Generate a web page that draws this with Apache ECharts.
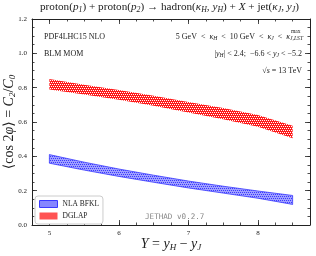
<!DOCTYPE html>
<html><head><meta charset="utf-8">
<script src="https://cdn.jsdelivr.net/npm/echarts@6/dist/echarts.min.js"></script>
<style>html,body{margin:0;padding:0;background:#fff}#c{width:316px;height:256px}</style>
</head><body><div id="c"></div>
<script>
// ---- data ----
const rapidity   = [5, 5.5, 6, 6.5, 7, 7.5, 8, 8.5];
const bfklUpper  = [0.410, 0.366, 0.326, 0.290, 0.256, 0.226, 0.198, 0.172];
const bfklLower  = [0.360, 0.320, 0.283, 0.249, 0.216, 0.186, 0.156, 0.120];
const dglapUpper = [0.850, 0.817, 0.786, 0.753, 0.717, 0.681, 0.641, 0.578];
const dglapLower = [0.790, 0.760, 0.730, 0.695, 0.656, 0.616, 0.572, 0.505];
const xMajorTicks = [5, 6, 7, 8];
const yMajorTicks = [0, 0.2, 0.4, 0.6, 0.8, 1.0, 1.2];
const seriesNames = ['NLA BFKL', 'DGLAP'];

const SERIF = '"Liberation Serif", "DejaVu Serif", serif';

function makePattern(bg, dot, pts) {
  const c = document.createElement('canvas'); c.width = 4; c.height = 4;
  const ctx = c.getContext('2d');
  ctx.fillStyle = bg; ctx.fillRect(0, 0, 4, 4);
  ctx.fillStyle = dot; pts.forEach(p => ctx.fillRect(p[0], p[1], 1, 1));
  return { image: c, repeat: 'repeat' };
}
const bluePat = makePattern('#a0a0ff', '#3a3aff', [[0,0],[2,0],[1,2],[3,2]]);
const redPat  = makePattern('#ff1a1a', '#ffffff', [[0,0],[2,0],[1,2],[3,2]]);

function band(name, upper, lower, fill, edge) {
  return {
    type: 'custom', name, coordinateSystem: 'cartesian2d', xAxisIndex: 0, yAxisIndex: 0,
    data: [[rapidity[0], upper[0]]],
    itemStyle: { color: edge || '#ff1a1a' },
    renderItem(params, api) {
      const up = rapidity.map((x, i) => api.coord([x, upper[i]]));
      const lo = rapidity.map((x, i) => api.coord([x, lower[i]]));
      const children = [{ type: 'polygon', shape: { points: up.concat(lo.slice().reverse()) },
        style: { fill: fill, stroke: edge || null, lineWidth: edge ? 0.8 : 0 } }];
      return { type: 'group', children };
    }
  };
}

const tickStyle = { color: '#222', width: 0.8 };
const lineStyle = { color: '#222', width: 1 };
function xAxisDef(pos, major, labels) {
  return {
    type: 'value', position: pos, min: 4.75, max: 8.75, interval: 0.25,
    axisLine: { show: !major, onZero: false, lineStyle },
    axisTick: major ? { inside: true, length: 5, lineStyle: tickStyle, customValues: xMajorTicks }
                    : { inside: true, length: 2.5, lineStyle: tickStyle },
    axisLabel: labels ? { show: true, customValues: xMajorTicks, formatter: v => String(Math.round(v)),
                          fontSize: 7, fontFamily: SERIF, color: '#222', margin: 5 } : { show: false },
    splitLine: { show: false },
    name: labels ? '{i|Y} = {i|y}{s|H} − {i|y}{s|J}' : '',
    nameLocation: 'middle', nameGap: 11, nameMoveOverlap: false,
    nameTextStyle: { fontSize: 14, fontFamily: SERIF, color: '#222', lineHeight: 16,
      rich: { i: { fontStyle: 'italic', fontSize: 14, fontFamily: SERIF, color: '#222' },
              s: { fontStyle: 'italic', fontSize: 9, fontFamily: SERIF, color: '#222', verticalAlign: 'bottom', lineHeight: 9 } } }
  };
}
function yAxisDef(pos, major, labels) {
  return {
    type: 'value', position: pos, min: 0, max: 1.2, interval: 0.05,
    axisLine: { show: !major, onZero: false, lineStyle },
    axisTick: major ? { inside: true, length: 5, lineStyle: tickStyle, customValues: yMajorTicks }
                    : { inside: true, length: 2.5, lineStyle: tickStyle },
    axisLabel: labels ? { show: true, customValues: yMajorTicks, formatter: v => v.toFixed(1),
                          fontSize: 7, fontFamily: SERIF, color: '#222', margin: 5 } : { show: false },
    splitLine: { show: false },
    name: labels ? '⟨cos 2{i|φ}⟩ = {i|C}{s|2}/{i|C}{s|0}' : '',
    nameLocation: 'middle', nameGap: 15, nameRotate: 90, nameMoveOverlap: false,
    nameTextStyle: { fontSize: 14, fontFamily: SERIF, color: '#222', lineHeight: 15,
      rich: { i: { fontStyle: 'italic', fontSize: 14, fontFamily: SERIF, color: '#222' },
              s: { fontStyle: 'italic', fontSize: 9, fontFamily: SERIF, color: '#222', verticalAlign: 'bottom', lineHeight: 8 } } }
  };
}

const richSmall = (fs) => ({
  i: { fontStyle: 'italic', fontSize: fs, fontFamily: SERIF, color: '#222' },
  s: { fontStyle: 'italic', fontSize: fs * 0.7, fontFamily: SERIF, color: '#222', verticalAlign: 'bottom', lineHeight: fs * 0.7 }
});
function txt(text, pos, fs, extra) {
  return Object.assign({ text, textStyle: Object.assign({ fontSize: fs, fontFamily: SERIF, color: '#222', fontWeight: 'normal',
    lineHeight: fs + 3, rich: richSmall(fs) }, extra || {}), padding: 0 }, pos);
}

const chart = echarts.init(document.getElementById('c'), null, { renderer: 'canvas' });
chart.setOption({
  animation: false,
  backgroundColor: '#fff',
  grid: { left: 32, right: 6, top: 19, bottom: 31, containLabel: false, outerBoundsMode: 'none' },
  xAxis: [xAxisDef('bottom', false, true), xAxisDef('bottom', true, false), xAxisDef('top', false, false), xAxisDef('top', true, false)],
  yAxis: [yAxisDef('left', false, true), yAxisDef('left', true, false), yAxisDef('right', false, false), yAxisDef('right', true, false)],
  title: [
    txt('proton({i|p}{s|1}) + proton({i|p}{s|2}) → hadron({i|κ}{s|H}, {i|y}{s|H}) + {i|X} + jet({i|κ}{s|J}, {i|y}{s|J})', { left: 40, top: 0 }, 11.2),
    txt('PDF4LHC15 NLO', { left: 44, top: 31 }, 8),
    txt('BLM MOM', { left: 44, top: 48 }, 8),
    txt('5 GeV  <  {i|κ}{s|H}  <  10 GeV  <  {i|κ}{s|J}  <  {i|κ}{s|J,LST}', { right: 13, top: 31 }, 8),
    txt('max', { left: 291, top: 27 }, 5.5, { fontStyle: 'normal' }),
    txt('|{i|y}{s|H}| < 2.4;  −6.6 < {i|y}{s|J} < −5.2', { right: 14, top: 48 }, 8),
    txt('√{i|s} = 13 TeV', { right: 14, top: 65 }, 8),
    txt('JETHAD v0.2.7', { left: 145, top: 212 }, 7.6, { fontFamily: '"DejaVu Sans Mono", monospace', color: '#888' })
  ],
  legend: {
    orient: 'vertical', left: 35, top: 196, padding: [4, 4, 4, 4],
    itemWidth: 18, itemHeight: 7, itemGap: 4,
    borderColor: '#cccccc', borderWidth: 1, borderRadius: 3, backgroundColor: '#fff',
    textStyle: { fontSize: 7.5, fontFamily: SERIF, color: '#222', padding: [0, 0, 0, 0] },
    data: [
      { name: seriesNames[0], icon: 'rect', itemStyle: { color: bluePat, borderColor: '#3a3aff', borderWidth: 1 } },
      { name: seriesNames[1], icon: 'rect', itemStyle: { color: redPat, borderWidth: 0 } }
    ]
  },
  series: [
    band(seriesNames[0], bfklUpper, bfklLower, bluePat, '#3a3aff'),
    band(seriesNames[1], dglapUpper, dglapLower, redPat, null)
  ]
});
</script></body></html>
